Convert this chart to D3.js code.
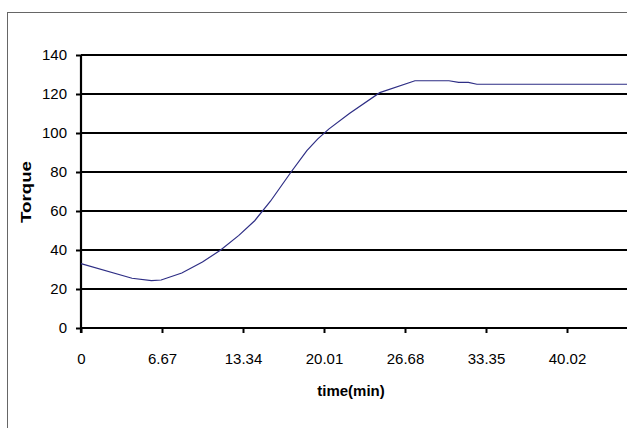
<!DOCTYPE html>
<html><head><meta charset="utf-8">
<script src="https://cdn.jsdelivr.net/npm/d3@7"></script>
<style>body{margin:0;background:#fff}svg{display:block}</style>
</head><body>
<script>
const times = [0, 4.2, 5.8, 6.6, 8.3, 10.0, 11.5, 13.0, 14.3, 15.6, 17.3, 18.6, 19.5, 20.4, 22.1, 24.6, 27.5, 30.3, 31.1, 31.9, 32.6, 46.5];
const torque = [33, 25.5, 24.3, 24.6, 28.2, 33.8, 40, 47.5, 55, 65, 80, 91, 97, 102, 110, 120.7, 126.8, 126.8, 126, 126, 125, 125];
const xTicks = [0, 6.67, 13.34, 20.01, 26.68, 33.35, 40.02];
const xTickLabels = ["0", "6.67", "13.34", "20.01", "26.68", "33.35", "40.02"];
const yTicks = [0, 20, 40, 60, 80, 100, 120, 140];

const W = 627, H = 428;
const svg = d3.select("body").append("svg").attr("width", W).attr("height", H);
svg.append("rect").attr("x", 7.5).attr("y", 12.5).attr("width", 700).attr("height", 500)
  .attr("fill", "none").attr("stroke", "#666").attr("stroke-width", 1);

const x0 = 81, plotTop = 55, plotBottom = 328;
const x = d3.scaleLinear().domain([0, 6.67]).range([x0, x0 + 81]);
const y = d3.scaleLinear().domain([0, 140]).range([plotBottom, plotTop]);
const font = "Liberation Sans, Arial, sans-serif";

// gridlines
svg.append("g").selectAll("line").data(yTicks).join("line")
  .attr("x1", x0).attr("x2", W).attr("y1", d => y(d)).attr("y2", d => y(d))
  .attr("stroke", "#000").attr("stroke-width", 2.2);

// y axis
const ya = svg.append("g").attr("transform", `translate(${x0},0)`)
  .call(d3.axisLeft(y).tickValues(yTicks).tickSize(5).tickPadding(9));
ya.select(".domain").attr("d", `M0,${plotTop}V${plotBottom + 5}`).attr("stroke-width", 2.2);
ya.selectAll(".tick line").attr("stroke-width", 2);
ya.selectAll("text").attr("font-family", font).attr("font-size", 15).attr("fill", "#000");

// x axis
const xa = svg.append("g").attr("transform", `translate(0,${plotBottom})`)
  .call(d3.axisBottom(x).tickValues(xTicks).tickFormat((d, i) => xTickLabels[i]).tickSize(5).tickPadding(20));
xa.select(".domain").attr("d", `M${x0},0H${W}`).attr("stroke-width", 2.2);
xa.selectAll(".tick line").attr("stroke-width", 2);
xa.selectAll("text").attr("font-family", font).attr("font-size", 15).attr("fill", "#000");

// line
const pts = times.map((t, i) => [t, torque[i]]);
svg.append("path").datum(pts)
  .attr("d", d3.line().x(d => x(d[0])).y(d => y(d[1])))
  .attr("fill", "none").attr("stroke", "#2e2e85").attr("stroke-width", 1.2);

// titles
svg.append("text").attr("x", 351).attr("y", 396).attr("text-anchor", "middle")
  .attr("font-family", font).attr("font-weight", "bold").attr("font-size", 15).text("time(min)");
svg.append("text").attr("transform", "translate(31,192) rotate(-90)").attr("text-anchor", "middle")
  .attr("font-family", font).attr("font-weight", "bold").attr("font-size", 15)
  .attr("textLength", 62).attr("lengthAdjust", "spacingAndGlyphs").text("Torque");
</script>
</body></html>
